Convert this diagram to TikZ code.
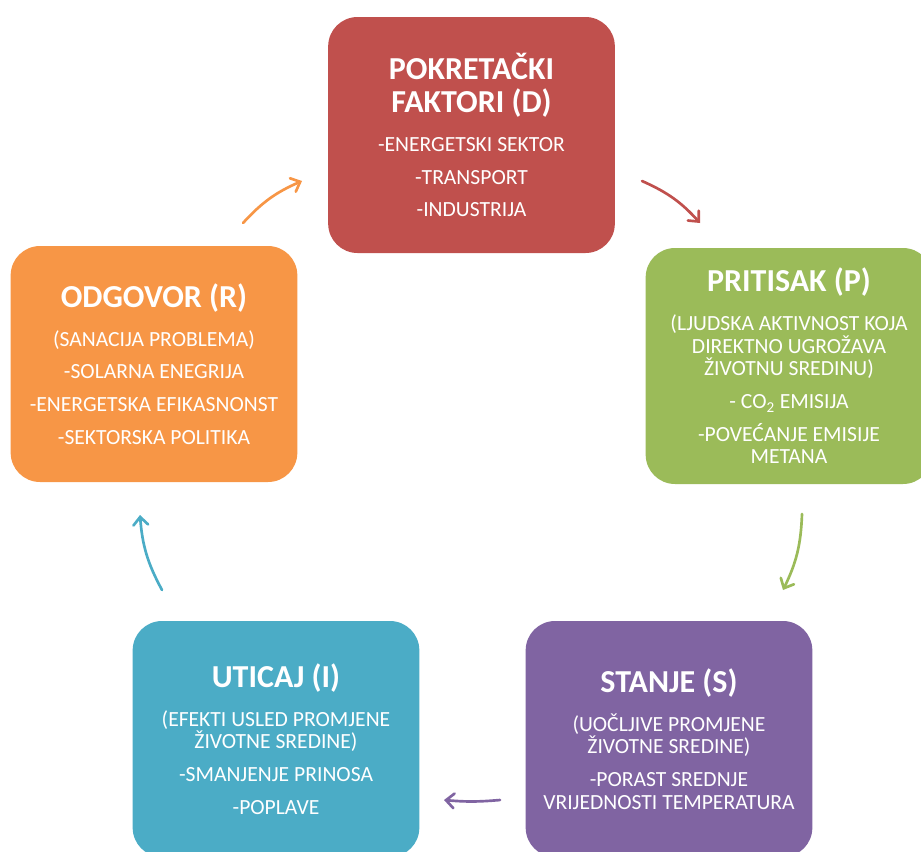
\documentclass[tikz,border=0pt]{standalone}
\usepackage{fontspec}
\setmainfont{Carlito}
\usetikzlibrary{arrows.meta}
\usetikzlibrary{positioning}

\definecolor{dcrvena}{HTML}{C0504D}
\definecolor{pzelena}{HTML}{9BBB59}
\definecolor{sljubic}{HTML}{8064A2}
\definecolor{iplava}{HTML}{4BACC6}
\definecolor{rnaranc}{HTML}{F79646}

\newcommand{\naslov}[1]{{\fontsize{24}{26}\selectfont\bfseries #1}}

\tikzset{
	polje/.style={rounded corners=22pt, minimum width=215pt, minimum height=177pt,
		inner sep=0pt, align=center, text=white, font=\fontsize{16.2}{17}\selectfont},
	strelica/.style={line width=2pt, line cap=round,
		-{Straight Barb[length=6pt,width=11pt,line cap=round]}}
}

\begin{document}
\begin{tikzpicture}[x=0.75pt,y=-0.75pt]
	\useasboundingbox (0,0) rectangle (921,851);
	\clip (0,0) rectangle (921,851);
	\node[polje,fill=dcrvena] (D) at (471.5,135) {\naslov{POKRETAČKI}\\[6pt]\naslov{FAKTORI (D)}\\[12pt]
		-ENERGETSKI SEKTOR\\[7.5pt]-TRANSPORT\\[7.5pt]-INDUSTRIJA};
	\node[polje,fill=pzelena] (P) at (789,366) {\naslov{PRITISAK (P)}\\[12pt]
		(LJUDSKA AKTIVNOST KOJA\\DIREKTNO UGROŽAVA\\ŽIVOTNU SREDINU)\\[7.5pt]
		- CO\textsubscript{2} EMISIJA\\[7.5pt]-POVEĆANJE EMISIJE\\METANA};
	\node[polje,fill=sljubic] (S) at (669,739) {\naslov{STANJE (S)}\\[12pt]
		(UOČLJIVE PROMJENE\\ŽIVOTNE SREDINE)\\[7.5pt]
		-PORAST SREDNJE\\VRIJEDNOSTI TEMPERATURA};
	\node[polje,fill=iplava] (I) at (276,739) {\naslov{UTICAJ (I)}\\[12pt]
		(EFEKTI USLED PROMJENE\\ŽIVOTNE SREDINE)\\[7.5pt]
		-SMANJENJE PRINOSA\\[7.5pt]-POPLAVE};
	\node[polje,fill=rnaranc] (R) at (154,364) {\naslov{ODGOVOR (R)}\\[12pt]
		(SANACIJA PROBLEMA)\\[7.5pt]-SOLARNA ENEGRIJA\\[7.5pt]
		-ENERGETSKA EFIKASNONST\\[7.5pt]-SEKTORSKA POLITIKA};
	% krajevi strelica
	\coordinate (dp1) at (642,181);
	\coordinate (dp2) at (700,223);
	\coordinate (ps1) at (802,514);
	\coordinate (ps2) at (783,590);
	\coordinate (si1) at (500,800);
	\coordinate (si2) at (444,800);
	\coordinate (ir1) at (162,590);
	\coordinate (ir2) at (140,515);
	\coordinate (rd1) at (243,223);
	\coordinate (rd2) at (302,181);
	\draw[strelica,dcrvena] (dp1) to[bend left=12] (dp2);
	\draw[strelica,pzelena] (ps1) to[bend left=12] (ps2);
	\draw[strelica,sljubic] (si1) to[bend left=5] (si2);
	\draw[strelica,iplava] (ir1) to[bend left=12] (ir2);
	\draw[strelica,rnaranc] (rd1) to[bend left=12] (rd2);
\end{tikzpicture}
\end{document}
